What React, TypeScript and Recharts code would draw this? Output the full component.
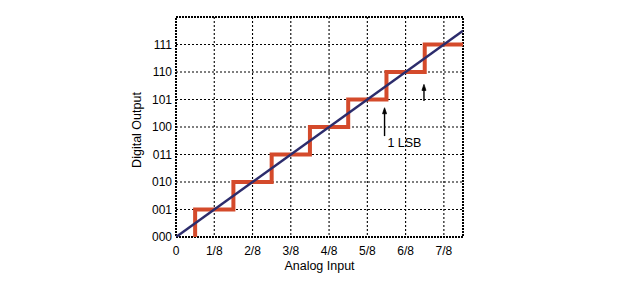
import React from "react";
import {
  LineChart,
  Line,
  XAxis,
  YAxis,
  CartesianGrid,
  ReferenceArea,
  ReferenceLine,
  ReferenceDot,
} from "recharts";

// Tick labels
const xTickValues = [0, 1, 2, 3, 4, 5, 6, 7];
const xTickLabels = ["0", "1/8", "2/8", "3/8", "4/8", "5/8", "6/8", "7/8"];
const yTickValues = [0, 1, 2, 3, 4, 5, 6, 7];
const yTickLabels = ["000", "001", "010", "011", "100", "101", "110", "111"];

// Staircase: code transitions (in eighths of full scale) and output codes
const stepInputs = [0.5, 1.5, 2.5, 3.5, 4.5, 5.5, 6.5, 7.5];
const stepCodes = [0, 1, 2, 3, 4, 5, 6, 7];

// Ideal transfer line
const idealInputs = [0, 7.5];
const idealOutputs = [0, 7.5];

// Annotations
const lsbArrow = { x: 5.45, yFrom: 3.67, yTo: 4.7 };
const smallArrow = { x: 6.48, yFrom: 4.95, yTo: 5.55 };
const lsbLabel = { x: 5.97, y: 3.42, text: "1 LSB" };

const stepData = stepInputs.map((x, i) => ({ x, y: stepCodes[i] }));
const idealData = idealInputs.map((x, i) => ({ x, y: idealOutputs[i] }));

const Arrow = (p: any) => {
  const { x1, y1, x2, y2 } = p;
  const top = Math.min(y1, y2);
  const bottom = Math.max(y1, y2);
  return (
    <g>
      <line x1={x1} y1={bottom} x2={x2} y2={top + 3} stroke="#000" strokeWidth={1.4} />
      <path
        d={`M${x2 - 2},${top + 6} L${x2},${top} L${x2 + 2},${top + 6} Z`}
        fill="#000"
        stroke="#000"
        strokeWidth={0.8}
      />
    </g>
  );
};

export default function App() {
  return (
    <div
      style={{
        position: "absolute",
        left: 0,
        top: 0,
        width: 624,
        height: 281,
        background: "#fff",
        fontFamily: "'Liberation Sans', Arial, sans-serif",
      }}
    >
      <LineChart
        width={624}
        height={281}
        margin={{ top: 17, right: 161, bottom: 14, left: 120 }}
      >
        <CartesianGrid
          stroke="#000"
          strokeWidth={1.1}
          strokeDasharray="2 2"
          horizontalValues={yTickValues.slice(1)}
          verticalValues={xTickValues.slice(1)}
        />
        <XAxis
          type="number"
          dataKey="x"
          domain={[0, 7.5]}
          ticks={xTickValues}
          allowDataOverflow
          tickFormatter={(v: number) => xTickLabels[xTickValues.indexOf(v)]}
          axisLine={false}
          tickLine={false}
          tickSize={6}
          tickMargin={3}
          height={30}
          interval={0}
          tick={{ fill: "#000", fontSize: 12 }}
          label={{
            content: (p: any) => {
              const vb = p.viewBox;
              const cx = vb.x + vb.width / 2;
              const cy = vb.y + 29;
              return (
                <text
                  x={cx}
                  y={cy}
                  textAnchor="middle"
                  dominantBaseline="central"
                  fontSize={12.5}
                  fill="#000"
                >
                  Analog Input
                </text>
              );
            },
          }}
        />
        <YAxis
          type="number"
          dataKey="y"
          domain={[0, 8]}
          ticks={yTickValues}
          allowDataOverflow
          tickFormatter={(v: number) => yTickLabels[yTickValues.indexOf(v)]}
          axisLine={false}
          tickLine={false}
          tickSize={2}
          tickMargin={2}
          width={56}
          interval={0}
          tick={{ fill: "#000", fontSize: 12 }}
          label={{
            content: (p: any) => {
              const vb = p.viewBox;
              const cx = vb.x + 17;
              const cy = vb.y + vb.height / 2 + 3;
              return (
                <text
                  x={cx}
                  y={cy}
                  transform={`rotate(-90 ${cx} ${cy})`}
                  textAnchor="middle"
                  dominantBaseline="central"
                  fontSize={12.5}
                  fill="#000"
                >
                  Digital Output
                </text>
              );
            },
          }}
        />
        <ReferenceArea
          x1={0}
          x2={7.5}
          y1={0}
          y2={8}
          fill="none"
          stroke="#000"
          strokeWidth={2}
          strokeDasharray="2 1"
          ifOverflow="visible"
        />
        <Line
          data={stepData}
          dataKey="y"
          type="stepBefore"
          stroke="#d44a2b"
          strokeWidth={4}
          dot={false}
          isAnimationActive={false}
        />
        <Line
          data={idealData}
          dataKey="y"
          type="linear"
          stroke="#2c2c6c"
          strokeWidth={2.5}
          dot={false}
          isAnimationActive={false}
        />
        <ReferenceLine
          segment={[
            { x: lsbArrow.x, y: lsbArrow.yFrom },
            { x: lsbArrow.x, y: lsbArrow.yTo },
          ]}
          shape={Arrow}
        />
        <ReferenceLine
          segment={[
            { x: smallArrow.x, y: smallArrow.yFrom },
            { x: smallArrow.x, y: smallArrow.yTo },
          ]}
          shape={Arrow}
        />
        <ReferenceDot
          x={lsbLabel.x}
          y={lsbLabel.y}
          r={0}
          fill="none"
          stroke="none"
          label={{ value: lsbLabel.text, position: "center", fill: "#000", fontSize: 12.5 }}
        />
      </LineChart>
    </div>
  );
}
